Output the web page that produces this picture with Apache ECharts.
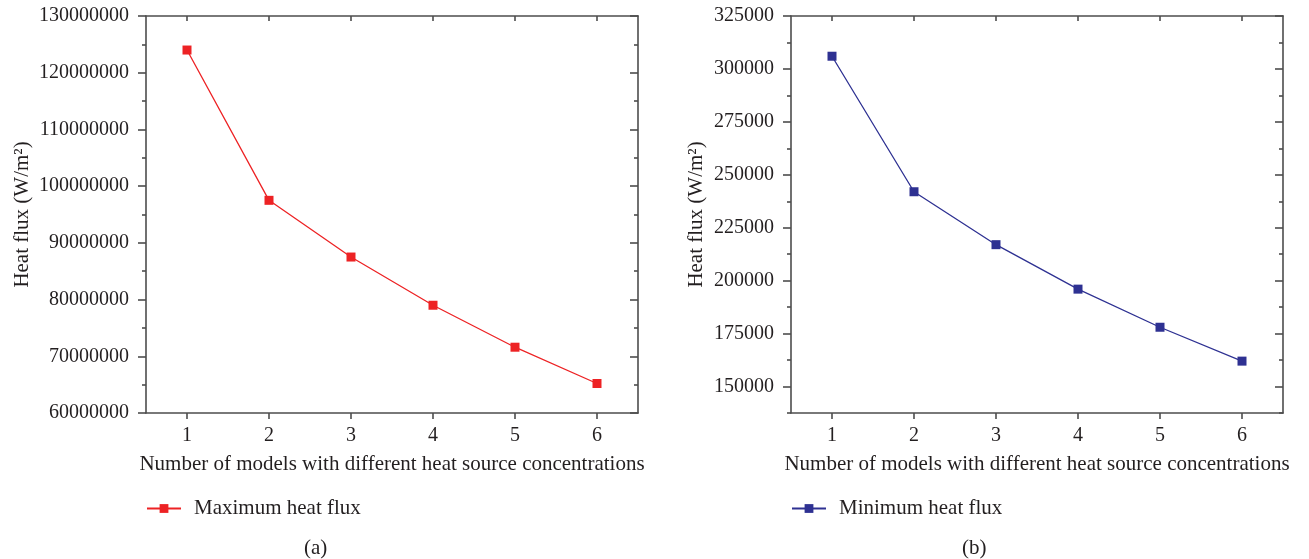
<!DOCTYPE html>
<html>
<head>
<meta charset="utf-8">
<script src="https://cdn.jsdelivr.net/npm/echarts@6/dist/echarts.min.js"></script>
<style>
html,body{margin:0;padding:0;background:#fff;}
#chart{width:1309px;height:559px;}
</style>
</head>
<body>
<div id="chart"></div>
<script>
// ---- data ----
const categories = ['1', '2', '3', '4', '5', '6'];
const maxHeatFlux = [124000000, 97500000, 87500000, 79000000, 71600000, 65200000];
const minHeatFlux = [306000, 242000, 217000, 196000, 178000, 162000];
const yTicksA = [60000000, 70000000, 80000000, 90000000, 100000000, 110000000, 120000000, 130000000];
const yTicksB = [150000, 175000, 200000, 225000, 250000, 275000, 300000, 325000];
const yRangeA = [60000000, 130000000];
const yRangeB = [137500, 325000];
const seriesNames = ['Maximum heat flux', 'Minimum heat flux'];
const panelLabels = ['(a)', '(b)'];
const xTitle = 'Number of models with different heat source concentrations';
const yTitle = 'Heat flux (W/m²)';

// ---- style ----
const FONT = 'Liberation Serif';
const TXT = '#231f20';
const AX = '#4d4d4d';
const AXW = 1.6;
const colors = ['#ed2224', '#2e3192'];
const LBL = 20, NAME = 21;

function minorsOf(majors, range) {
  const step = majors[1] - majors[0];
  const out = [];
  for (let i = 0; i < majors.length; i++) {
    const v = majors[i] - step / 2;
    if (v >= range[0]) out.push(v);
  }
  return out;
}

const grids = [
  { left: 146, top: 16, width: 492, height: 397 },
  { left: 791, top: 16, width: 492, height: 397 }
];

const xAxes = [], yAxes = [], series = [], legends = [], graphics = [];
const ticksList = [yTicksA, yTicksB];
const ranges = [yRangeA, yRangeB];
const dataList = [maxHeatFlux, minHeatFlux];
const nameGaps = [113, 84];

for (let g = 0; g < 2; g++) {
  const majors = ticksList[g];
  const range = ranges[g];
  const minors = minorsOf(majors, range);
  // bottom x
  xAxes.push({
    gridIndex: g, type: 'category', data: categories, position: 'bottom',
    boundaryGap: true,
    axisLine: { show: true, lineStyle: { color: AX, width: AXW } },
    axisTick: { show: true, alignWithLabel: true, inside: false, length: 6, lineStyle: { color: AX, width: AXW } },
    axisLabel: { show: true, color: TXT, fontFamily: FONT, fontSize: LBL, margin: 13 },
    name: xTitle, nameLocation: 'middle', nameGap: 41,
    nameTextStyle: { color: TXT, fontFamily: FONT, fontSize: NAME },
    splitLine: { show: false }
  });
  // top x
  xAxes.push({
    gridIndex: g, type: 'category', data: categories, position: 'top',
    boundaryGap: true,
    axisLine: { show: true, lineStyle: { color: AX, width: AXW } },
    axisTick: { show: true, alignWithLabel: true, inside: true, length: 5, lineStyle: { color: AX, width: AXW } },
    axisLabel: { show: false },
    splitLine: { show: false }
  });
  const base = { gridIndex: g, type: 'value', min: range[0], max: range[1], splitLine: { show: false } };
  // left major
  yAxes.push(Object.assign({}, base, {
    position: 'left',
    axisLine: { show: true, lineStyle: { color: AX, width: AXW } },
    axisTick: { show: true, inside: false, length: 8, customValues: majors, lineStyle: { color: AX, width: AXW } },
    axisLabel: { show: true, customValues: majors, formatter: v => String(v), color: TXT, fontFamily: FONT, fontSize: LBL, margin: 17 },
    name: yTitle, nameLocation: 'middle', nameGap: nameGaps[g],
    nameTextStyle: { color: TXT, fontFamily: FONT, fontSize: NAME }
  }));
  // left minor
  yAxes.push(Object.assign({}, base, {
    position: 'left',
    axisLine: { show: false },
    axisTick: { show: true, inside: false, length: 4, customValues: minors, lineStyle: { color: AX, width: AXW } },
    axisLabel: { show: false }
  }));
  // right major
  yAxes.push(Object.assign({}, base, {
    position: 'right',
    axisLine: { show: true, lineStyle: { color: AX, width: AXW } },
    axisTick: { show: true, inside: true, length: 8, customValues: majors, lineStyle: { color: AX, width: AXW } },
    axisLabel: { show: false }
  }));
  // right minor
  yAxes.push(Object.assign({}, base, {
    position: 'right',
    axisLine: { show: false },
    axisTick: { show: true, inside: true, length: 4, customValues: minors, lineStyle: { color: AX, width: AXW } },
    axisLabel: { show: false }
  }));

  series.push({
    name: seriesNames[g], type: 'line',
    xAxisIndex: g * 2, yAxisIndex: g * 4,
    data: dataList[g],
    symbol: 'rect', symbolSize: 9,
    lineStyle: { color: colors[g], width: 1.3 },
    itemStyle: { color: colors[g], borderColor: colors[g], borderWidth: 0 },
    emphasis: { disabled: true },
    animation: false
  });

  legends.push({
    data: [seriesNames[g]],
    left: grids[g].left - 5, top: 493,
    itemWidth: 34, itemHeight: 11,
    textStyle: { color: TXT, fontFamily: FONT, fontSize: NAME, padding: [0, 0, 0, 8] }
  });

  graphics.push({
    type: 'text',
    left: g === 0 ? 304 : 962, top: 538,
    style: { text: panelLabels[g], fill: TXT, font: NAME + 'px "' + FONT + '"' }
  });
}

const chart = echarts.init(document.getElementById('chart'), null, { renderer: 'canvas' });
chart.setOption({
  animation: false,
  backgroundColor: '#fff',
  grid: grids,
  xAxis: xAxes,
  yAxis: yAxes,
  series: series,
  legend: legends,
  graphic: graphics
});
</script>
</body>
</html>
